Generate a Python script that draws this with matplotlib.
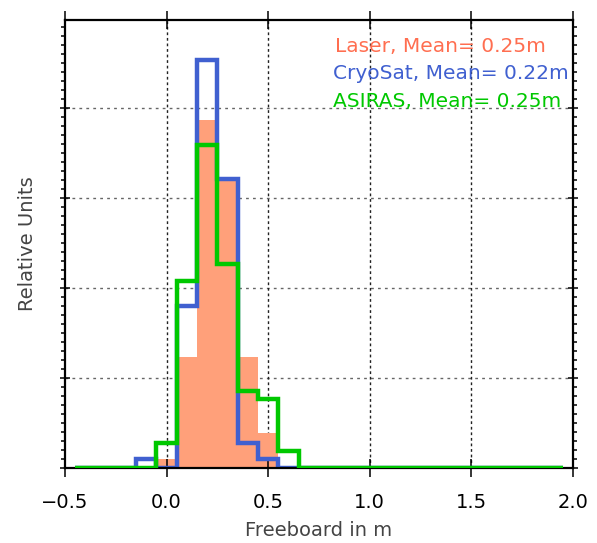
import numpy as np
import matplotlib
matplotlib.use("Agg")
import matplotlib.pyplot as plt
from matplotlib.ticker import MultipleLocator

# Bin edges (0.1 m bins, centred on multiples of 0.1)
bin_edges = np.round(np.arange(-0.45, 1.951, 0.1), 2)
bin_centers = np.round((bin_edges[:-1] + bin_edges[1:]) / 2, 2)

# Non-zero bins (centre -> relative units)
laser_centers = [0.0, 0.1, 0.2, 0.3, 0.4, 0.5]
laser_values = [0.10, 1.23, 3.87, 3.19, 1.23, 0.39]

cryosat_centers = [-0.1, 0.1, 0.2, 0.3, 0.4, 0.5]
cryosat_values = [0.10, 1.80, 4.53, 3.21, 0.28, 0.10]

asiras_centers = [0.0, 0.1, 0.2, 0.3, 0.4, 0.5, 0.6]
asiras_values = [0.28, 2.08, 3.59, 2.27, 0.85, 0.76, 0.19]

legend_labels = ["Laser, Mean= 0.25m", "CryoSat, Mean= 0.22m", "ASIRAS, Mean= 0.25m"]
x_ticks = [-0.5, 0.0, 0.5, 1.0, 1.5, 2.0]
x_ticklabels = ["\u22120.5", "0.0", "0.5", "1.0", "1.5", "2.0"]


def fill_bins(centers, values):
    out = np.zeros(len(bin_centers))
    for c, v in zip(centers, values):
        idx = int(np.argmin(np.abs(bin_centers - c)))
        out[idx] = v
    return out


laser = fill_bins(laser_centers, laser_values)
cryosat = fill_bins(cryosat_centers, cryosat_values)
asiras = fill_bins(asiras_centers, asiras_values)

c_laser_fill = "#FFA07A"
c_laser_text = "#FF6E50"
c_cryo = "#4060D0"
c_asiras = "#00C800"

fig = plt.figure(figsize=(5.97, 5.43), dpi=100)
ax = fig.add_axes([65 / 597, 1 - 467.7 / 543, 507.7 / 597, 447.7 / 543])

# grid
for y in [1, 2, 3, 4]:
    ax.axhline(y, color="#666666", lw=1.0, ls=(0, (2, 3)), zorder=0)
for x in [0.0, 0.5, 1.0, 1.5]:
    ax.axvline(x, color="#222222", lw=1.0, ls=(0, (2, 2)), zorder=0)

ax.stairs(laser, bin_edges, fill=True, color=c_laser_fill, lw=0, zorder=1)
ax.stairs(cryosat, bin_edges, color=c_cryo, lw=3.2, zorder=2)
ax.stairs(asiras, bin_edges, color=c_asiras, lw=3.2, zorder=3)

ax.set_xlim(-0.5, 2.0)
ax.set_ylim(0, 4.98)

ax.set_xticks(x_ticks)
ax.set_xticklabels(x_ticklabels)
ax.yaxis.set_major_locator(MultipleLocator(1))
ax.yaxis.set_minor_locator(MultipleLocator(0.1))
ax.set_yticklabels([])

ax.tick_params(axis="x", which="major", direction="inout", length=13, width=1.1,
               top=True, bottom=True, labelsize=14, pad=12)
ax.tick_params(axis="y", which="major", direction="inout", length=7, width=1.1,
               left=True, right=True)
ax.tick_params(axis="y", which="minor", direction="out", length=3, width=1.1,
               left=True, right=True)
for sp in ax.spines.values():
    sp.set_linewidth(1.6)

ax.set_xlabel("Freeboard in m", fontsize=14, color="#444444", labelpad=6)
ax.set_ylabel("Relative Units", fontsize=14, color="#444444", labelpad=13)

ys = [0.929, 0.8675, 0.805]
xs = [0.532, 0.528, 0.528]
cols = [c_laser_text, c_cryo, c_asiras]
for lab, x, y, c in zip(legend_labels, xs, ys, cols):
    ax.text(x, y, lab, transform=ax.transAxes, color=c, fontsize=14.5,
            va="baseline", ha="left", zorder=5)

fig.savefig("out.png", dpi=100)
